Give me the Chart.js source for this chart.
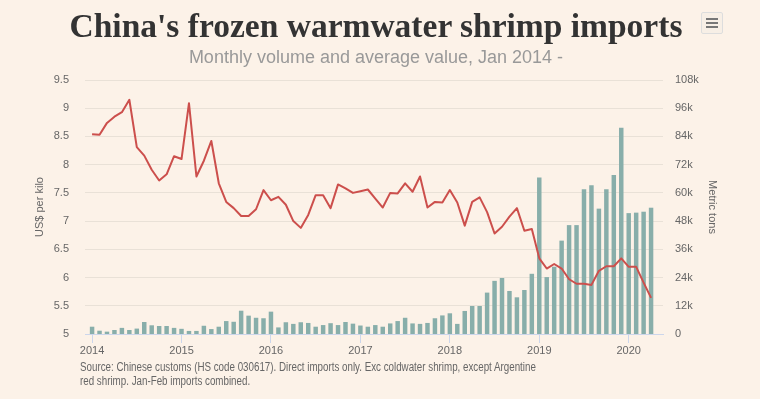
<!DOCTYPE html>
<html>
<head>
<meta charset="utf-8">
<script src="https://cdn.jsdelivr.net/npm/chart.js@4.4.1/dist/chart.umd.min.js"></script>
<style>
  html, body { margin: 0; padding: 0; background: #fcf2e8; }
  #wrap { position: relative; width: 760px; height: 399px; overflow: hidden; }
  #chart { position: absolute; left: 0; top: 0; }
  .title { position: absolute; left: 0; width: 752px; text-align: center; top: 7px;
    font: bold 33.5px "Liberation Serif", serif; color: #333; }
  .subtitle { position: absolute; left: 0; width: 752px; text-align: center; top: 47px;
    font: 18px "Liberation Sans", Arial, sans-serif; color: #999; }
  .source { position: absolute; left: 80px; top: 360px; white-space: nowrap;
    font: 12px "Liberation Sans", Arial, sans-serif; color: #666; line-height: 14px;
    transform: scaleX(0.815); transform-origin: 0 0; }
  .menu { position: absolute; left: 701px; top: 12px; width: 20px; height: 20px;
    border: 1px solid #ddd; border-radius: 2px; background: #f7efe6; }
  .menu span { position: absolute; left: 4px; width: 12px; height: 2px; background: #777; }
</style>
</head>
<body>
<div id="wrap">
  <canvas id="chart" width="760" height="399"></canvas>
  <div class="title">China's frozen warmwater shrimp imports</div>
  <div class="subtitle">Monthly volume and average value, Jan 2014 -</div>
  <div class="menu"><span style="top:5px"></span><span style="top:9px"></span><span style="top:13px"></span></div>
  <div class="source">Source: Chinese customs (HS code 030617). Direct imports only. Exc coldwater shrimp, except Argentine<br>red shrimp. Jan-Feb imports combined.</div>
</div>
<script>
// months Jan 2014 .. Apr 2020
const months = [];
for (let y = 2014; y <= 2020; y++) {
    for (let m = 1; m <= 12; m++) {
        if (y === 2020 && m > 4) break;
        months.push(y + '-' + String(m).padStart(2, '0'));
    }
}
const yearLabels = ['2014', '2015', '2016', '2017', '2018', '2019', '2020'];

// average value, US$ per kilo
const pricePerKilo = [
    8.54, 8.53, 8.74, 8.85, 8.93, 9.15, 8.31, 8.16, 7.91, 7.72, 7.83, 8.15,
    8.10, 9.09, 7.79, 8.07, 8.42, 7.67, 7.34, 7.23, 7.09, 7.09, 7.21, 7.55,
    7.37, 7.43, 7.29, 7.00, 6.88, 7.11, 7.46, 7.46, 7.23, 7.65, 7.58, 7.50,
    7.53, 7.56, 7.40, 7.24, 7.50, 7.49, 7.67, 7.52, 7.79, 7.24, 7.34, 7.33,
    7.55, 7.33, 6.92, 7.34, 7.42, 7.16, 6.78, 6.90, 7.08, 7.23, 6.83, 6.86,
    6.34, 6.16, 6.24, 6.16, 5.97, 5.89, 5.89, 5.87, 6.12, 6.20, 6.20, 6.34,
    6.19, 6.19, 5.91, 5.64
];

// volume, thousand metric tons
const volumeK = [
    3.1, 1.4, 1.0, 1.7, 2.6, 1.7, 2.3, 5.1, 3.7, 3.4, 3.4, 2.6,
    2.2, 1.3, 1.3, 3.5, 2.1, 3.1, 5.5, 5.2, 9.9, 7.8, 6.9, 6.7,
    9.5, 2.8, 5.0, 4.3, 5.0, 4.7, 3.1, 3.8, 4.6, 3.8, 5.1, 4.4,
    3.6, 3.1, 3.8, 3.1, 4.5, 5.5, 6.9, 4.5, 4.3, 4.7, 6.7, 7.9,
    8.8, 4.3, 9.8, 11.9, 11.9, 17.6, 22.6, 23.8, 18.3, 15.6, 18.7, 25.6,
    66.5, 24.2, 28.6, 39.7, 46.3, 46.3, 61.5, 63.3, 53.3, 61.5, 67.6, 87.7,
    51.4, 51.6, 52.0, 53.7
];

const axisFont = { family: '"Liberation Sans", Arial, sans-serif', size: 11 };

new Chart(document.getElementById('chart'), {
    type: 'bar',
    data: {
        labels: months,
        datasets: [
            {
                type: 'line',
                label: 'US$ per kilo',
                data: pricePerKilo.map((v, i) => ({ x: i, y: v })),
                borderColor: '#cc4f4c',
                borderWidth: 2,
                borderJoinStyle: 'round',
                pointRadius: 0,
                tension: 0,
                yAxisID: 'yPrice',
                order: 0
            },
            {
                label: 'Metric tons',
                data: volumeK.map((v, i) => ({ x: i, y: v * 1000 })),
                backgroundColor: '#88aeaa',
                barPercentage: 0.6,
                categoryPercentage: 1,
                yAxisID: 'yVol',
                order: 1
            }
        ]
    },
    options: {
        responsive: false,
        animation: false,
        layout: { padding: { left: 33, right: 41, top: 80, bottom: 0 } },
        plugins: { legend: { display: false }, tooltip: { enabled: false } },
        scales: {
            x: {
                type: 'linear',
                offset: false,
                min: -0.95,
                max: 76.6,
                afterBuildTicks: s => { s.ticks = yearLabels.map((y, k) => ({ value: k * 12 })); },
                afterFit: s => { s.height = 65; },
                grid: { offset: false, drawOnChartArea: false, drawTicks: true, tickLength: 9, color: '#ccd6eb' },
                border: { display: true, color: '#ccd6eb' },
                ticks: { color: '#666', font: axisFont, padding: 1, maxRotation: 0,
                    callback: (v, i) => yearLabels[i] }
            },
            yPrice: {
                position: 'left',
                min: 5, max: 9.5,
                afterFit: s => { s.width = 52; },
                grid: { color: '#e9e1d7', drawTicks: false },
                border: { display: false },
                ticks: { stepSize: 0.5, color: '#666', font: axisFont, padding: 16,
                    callback: v => String(v) },
                title: { display: true, text: 'US$ per kilo', color: '#666', font: axisFont,
                    padding: { top: 0, bottom: 0 } }
            },
            yVol: {
                position: 'right',
                min: 0, max: 108000,
                afterFit: s => { s.width = 56; },
                grid: { display: false, drawTicks: false },
                border: { display: false },
                ticks: { stepSize: 12000, color: '#666', font: axisFont, padding: 12,
                    callback: v => v === 0 ? '0' : (v / 1000) + 'k' },
                title: { display: true, text: 'Metric tons', color: '#666', font: axisFont,
                    padding: { top: 0, bottom: 0 } }
            }
        }
    }
});
</script>
</body>
</html>
